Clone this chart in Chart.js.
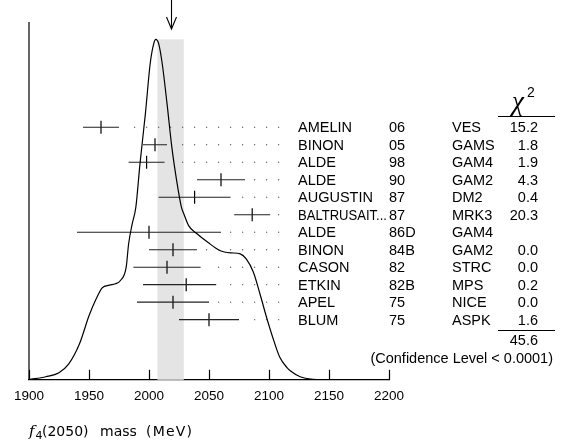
<!DOCTYPE html>
<html><head><meta charset="utf-8">
<script src="https://cdn.jsdelivr.net/npm/chart.js@4"></script>
<style>html,body{margin:0;padding:0;background:#fff;}#wrap{width:561px;height:445px;}</style>
</head><body><div id="wrap"><canvas id="c" width="561" height="445"></canvas></div>
<script>
// ---- data ----
const authors = ["AMELIN","BINON","ALDE","ALDE","AUGUSTIN","BALTRUSAIT...","ALDE","BINON","CASON","ETKIN","APEL","BLUM"];
const years = ["06","05","98","90","87","87","86D","84B","82","82B","75","75"];
const experiments = ["VES","GAMS","GAM4","GAM2","DM2","MRK3","GAM4","GAM2","STRC","MPS","NICE","ASPK"];
const chi2 = ["15.2","1.8","1.9","4.3","0.4","20.3","","0.0","0.0","0.2","0.0","1.6"];
const massCenter = [1960,2005,1998,2060,2038,2086,2000,2020,2015,2031,2020,2050];
const massLow    = [1945,1995,1983,2040,2008,2071,1940,2000,1987,1995,1990,2025];
const massHigh   = [1975,2015,2013,2080,2068,2101,2060,2040,2043,2056,2050,2075];
const curveMass   = [1900,1914,1925,1933,1942,1950,1956,1961,1967,1972,1976,1981,1983,1986,1989,1992.5,1997,2001,2004,2005.6,2008,2011,2015,2019,2023,2027,2029,2033,2040,2049,2059,2068,2076,2081,2087,2092.5,2098,2104,2109,2115,2118,2126,2137,2150,2200];
const curveHeight = [0.1,0.9,2.1,4.6,10.5,18.8,23.8,27.0,27.8,28.2,29.1,33.1,39.9,45.8,50.6,63.5,78.2,92.9,98.8,100,98.8,92.9,81.2,68.4,58.6,50.7,48.8,45.3,42.9,40.4,38.0,37.3,37.0,35.5,31.6,25.2,18.3,11.5,6.6,3.6,2.6,0.9,0.15,0,0];
const xTicks = [1900,1950,2000,2050,2100,2150,2200];
const fitValue = 2018, fitError = 11;
const chi2Total = "45.6";
const confidenceText = "(Confidence Level < 0.0001)";
const axisTitleMain = "(2050)", axisTitleMass = "mass", axisTitleUnit = "(MeV)";

// ---- derived datasets ----
const curveData = curveMass.map((m,i)=>({x:m,y:curveHeight[i]}));
const barData = [];
massLow.forEach((lo,i)=>{ barData.push({x:lo,y:i},{x:massHigh[i],y:i},{x:massHigh[i],y:null}); });
const centerData = massCenter.map((m,i)=>({x:m,y:i}));
const dotData = [];
massHigh.forEach((hi,i)=>{
  for(let k=-20;k<=20;k++){const v=fitValue+10*k; if(v>hi+5 && v<=2110) dotData.push({x:v,y:i});}
});

const ideogram = {
  id:'ideo',
  beforeDatasetsDraw(chart){
    const {ctx, chartArea:a, scales:{x,y}} = chart;
    const x0=x.getPixelForValue(fitValue-fitError), x1=x.getPixelForValue(fitValue+fitError);
    const top=y.getPixelForValue(Math.max(...curveHeight));
    ctx.save(); ctx.fillStyle='#e4e4e4'; ctx.fillRect(x0,top,x1-x0,a.bottom-top); ctx.restore();
  },
  afterDraw(chart){
    const {ctx, chartArea:a, scales:{x,yRow}} = chart;
    ctx.save();
    ctx.strokeStyle='#000'; ctx.lineWidth=1.2;
    ctx.beginPath(); ctx.moveTo(a.left,a.top); ctx.lineTo(a.left,a.bottom); ctx.stroke();
    xTicks.forEach(t=>{const px=Math.round(x.getPixelForValue(t))+0.5; ctx.beginPath(); ctx.moveTo(px,a.bottom); ctx.lineTo(px,a.bottom-10); ctx.stroke();});
    const ax=Math.round(x.getPixelForValue(fitValue))+0.5;
    ctx.lineWidth=1.1;
    ctx.beginPath(); ctx.moveTo(ax,0); ctx.lineTo(ax,29); ctx.stroke();
    ctx.beginPath(); ctx.moveTo(ax-5,17); ctx.lineTo(ax,29); ctx.lineTo(ax+5,17); ctx.stroke();
    // table
    ctx.fillStyle='#000'; ctx.font="14.5px 'Liberation Sans', Arial, sans-serif"; ctx.textBaseline='middle';
    authors.forEach((n,i)=>{
      const py=yRow.getPixelForValue(i)+1;
      ctx.textAlign='left';
      ctx.fillText(n,298,py,89); ctx.fillText(years[i],389,py); ctx.fillText(experiments[i],452,py);
      ctx.textAlign='right'; ctx.fillText(chi2[i],538,py);
    });
    // chi2 header
    ctx.textAlign='center'; ctx.textBaseline='alphabetic';
    ctx.font="italic 27px 'Liberation Serif', serif"; ctx.fillText("\u03C7",518,110);
    ctx.font="14px 'Liberation Sans', Arial, sans-serif"; ctx.fillText("2",531,97);
    ctx.lineWidth=1;
    ctx.beginPath(); ctx.moveTo(498,116.5); ctx.lineTo(555,116.5); ctx.stroke();
    const last=yRow.getPixelForValue(authors.length-1);
    ctx.beginPath(); ctx.moveTo(498,Math.round(last+10)+0.5); ctx.lineTo(555,Math.round(last+10)+0.5); ctx.stroke();
    ctx.textBaseline='middle'; ctx.font="14.5px 'Liberation Sans', Arial, sans-serif";
    ctx.textAlign='right'; ctx.fillText(chi2Total,538,last+21);
    ctx.fillText(confidenceText,553,last+39);
    // axis title
    ctx.textAlign='left'; ctx.textBaseline='alphabetic';
    ctx.font="italic 15px 'DejaVu Serif', serif"; ctx.fillText("f",29,436);
    ctx.font="11px 'DejaVu Sans', sans-serif"; ctx.fillText("4",35.5,439);
    ctx.font="14px 'DejaVu Sans', sans-serif";
    ctx.fillText(axisTitleMain,42,436);
    ctx.fillText(axisTitleMass,100,436);
    ctx.letterSpacing='1.2px'; ctx.fillText(axisTitleUnit,146,436);
    ctx.restore();
  }
};

new Chart(document.getElementById('c'),{
  type:'scatter',
  data:{datasets:[
    {data:curveData,yAxisID:'y',showLine:true,borderColor:'#000',borderWidth:1.2,pointRadius:0,cubicInterpolationMode:'monotone',fill:false},
    {data:barData,yAxisID:'yRow',showLine:true,spanGaps:false,borderColor:'#222',borderWidth:1.1,pointRadius:0},
    {data:centerData,yAxisID:'yRow',pointStyle:'line',rotation:90,pointRadius:6.5,borderColor:'#000',borderWidth:1.2,backgroundColor:'#000'},
    {data:dotData,yAxisID:'yRow',pointStyle:'circle',pointRadius:0.7,backgroundColor:'#666',borderWidth:0}
  ]},
  options:{
    responsive:false, animation:false, devicePixelRatio:1,
    layout:{padding:{left:29,right:172,top:22,bottom:33}},
    plugins:{legend:{display:false},tooltip:{enabled:false}},
    scales:{
      x:{type:'linear',min:1900,max:2200,
         ticks:{stepSize:50,color:'#000',padding:8,font:{family:"'Liberation Sans', Arial, sans-serif",size:13.5},callback:v=>String(v)},
         grid:{display:false,drawTicks:false},border:{display:true,color:'#000',width:1.2}},
      y:{display:false,min:0,max:105.1},
      yRow:{display:false,reverse:true,min:-6.02,max:14.44}
    }
  },
  plugins:[ideogram]
});
</script></body></html>
